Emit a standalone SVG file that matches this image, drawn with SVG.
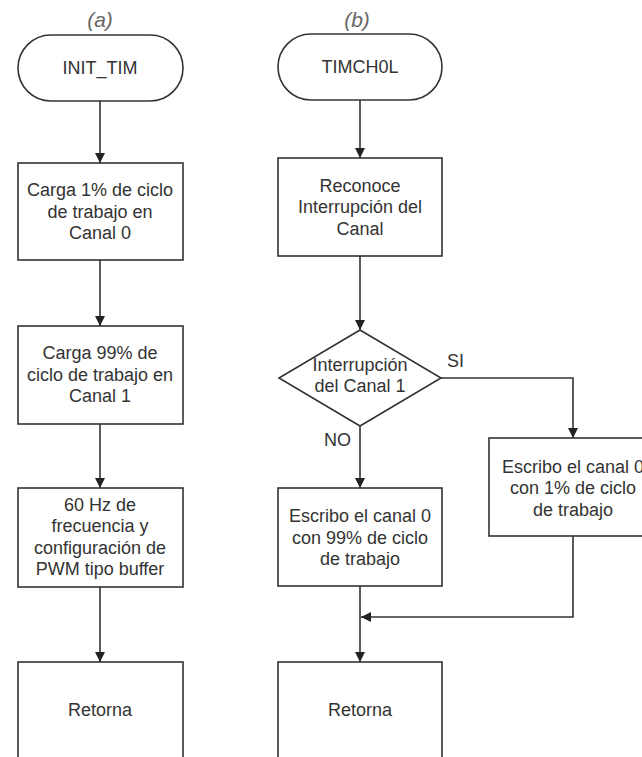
<svg xmlns="http://www.w3.org/2000/svg" width="642" height="757" viewBox="0 0 642 757">
<style>
.box{fill:#fff;stroke:#333;stroke-width:1.6}
.t{font-family:"Liberation Sans",Arial,sans-serif;font-size:18px;fill:#333;text-anchor:middle}
.lbl{font-family:"Liberation Sans",Arial,sans-serif;font-size:18px;fill:#333}
.cap{font-family:"Liberation Sans",Arial,sans-serif;font-size:21px;font-style:italic;fill:#666;text-anchor:middle}
.c{fill:none;stroke:#333;stroke-width:1.6}
</style>
<defs>
<marker id="ah" viewBox="0 0 10 10" refX="10" refY="5" markerWidth="10" markerHeight="10" markerUnits="userSpaceOnUse" orient="auto">
<path d="M0,0 L10,5 L0,10 Z" fill="#222"/>
</marker>
</defs>
<rect width="642" height="757" fill="#fff"/>
<text class="cap" x="100" y="27">(a)</text>
<text class="cap" x="357" y="27">(b)</text>
<g id="connectors">
<line class="c" x1="100" y1="101" x2="100" y2="163" marker-end="url(#ah)"/>
<line class="c" x1="100" y1="260" x2="100" y2="326" marker-end="url(#ah)"/>
<line class="c" x1="100" y1="424" x2="100" y2="488" marker-end="url(#ah)"/>
<line class="c" x1="100" y1="587" x2="100" y2="662" marker-end="url(#ah)"/>
<line class="c" x1="360" y1="100" x2="360" y2="158" marker-end="url(#ah)"/>
<line class="c" x1="360" y1="256" x2="360" y2="330" marker-end="url(#ah)"/>
<line class="c" x1="360" y1="426" x2="360" y2="488" marker-end="url(#ah)"/>
<line class="c" x1="360" y1="586" x2="360" y2="662" marker-end="url(#ah)"/>
<polyline class="c" points="441,378 573,378 573,438" marker-end="url(#ah)"/>
<polyline class="c" points="573,536 573,617 361,617" marker-end="url(#ah)"/>
<text class="lbl" x="447" y="367">SI</text>
<text class="lbl" x="324" y="446">NO</text>
</g>
<g id="init_tim">
<rect class="box" x="18" y="35" width="165" height="66" rx="33" ry="33"/>
<text class="t" x="100" y="74">INIT_TIM</text>
</g>
<g id="carga1">
<rect class="box" x="18" y="163" width="165" height="97"/>
<text class="t" x="100" y="196">Carga 1% de ciclo</text>
<text class="t" x="100" y="217.5">de trabajo en</text>
<text class="t" x="100" y="239">Canal 0</text>
</g>
<g id="carga99">
<rect class="box" x="18" y="326" width="165" height="98"/>
<text class="t" x="100" y="359">Carga 99% de</text>
<text class="t" x="100" y="380.5">ciclo de trabajo en</text>
<text class="t" x="100" y="402">Canal 1</text>
</g>
<g id="pwm">
<rect class="box" x="18" y="488" width="165" height="99"/>
<text class="t" x="100" y="510.5">60 Hz de</text>
<text class="t" x="100" y="532">frecuencia y</text>
<text class="t" x="100" y="553.5">configuración de</text>
<text class="t" x="100" y="575">PWM tipo buffer</text>
</g>
<g id="retorna_a">
<rect class="box" x="18" y="662" width="165" height="110"/>
<text class="t" x="100" y="716">Retorna</text>
</g>
<g id="timch0l">
<rect class="box" x="278" y="34" width="164" height="66" rx="33" ry="33"/>
<text class="t" x="360" y="73">TIMCH0L</text>
</g>
<g id="reconoce">
<rect class="box" x="278" y="158" width="164" height="98"/>
<text class="t" x="360" y="191.5">Reconoce</text>
<text class="t" x="360" y="213">Interrupción del</text>
<text class="t" x="360" y="234.5">Canal</text>
</g>
<g id="decision">
<polygon class="box" points="360,330 441,378 360,426 279,378"/>
<text class="t" x="360" y="371">Interrupción</text>
<text class="t" x="360" y="392">del Canal 1</text>
</g>
<g id="escribo99">
<rect class="box" x="278" y="488" width="164" height="98"/>
<text class="t" x="360" y="522">Escribo el canal 0</text>
<text class="t" x="360" y="543.5">con 99% de ciclo</text>
<text class="t" x="360" y="565">de trabajo</text>
</g>
<g id="escribo1">
<rect class="box" x="489" y="438" width="168" height="98"/>
<text class="t" x="573" y="472.5">Escribo el canal 0</text>
<text class="t" x="573" y="494">con 1% de ciclo</text>
<text class="t" x="573" y="515.5">de trabajo</text>
</g>
<g id="retorna_b">
<rect class="box" x="278" y="662" width="164" height="110"/>
<text class="t" x="360" y="716">Retorna</text>
</g>
</svg>
